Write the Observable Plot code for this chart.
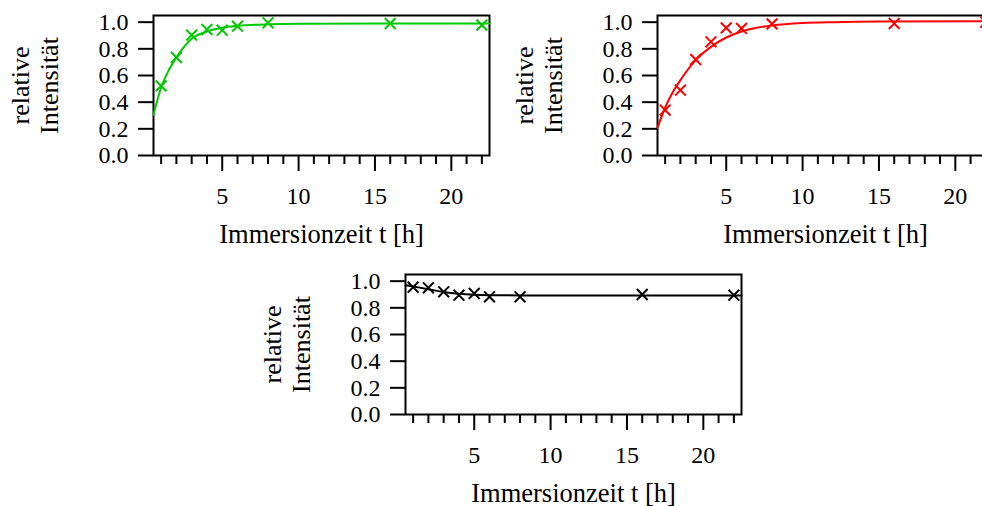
<!DOCTYPE html>
<html><head><meta charset="utf-8">
<script src="https://cdn.jsdelivr.net/npm/d3@7"></script>
<script src="https://cdn.jsdelivr.net/npm/@observablehq/plot@0.6"></script>
<style>
html,body{margin:0;padding:0;background:#fff;}
#fig{position:relative;width:982px;height:506px;overflow:hidden;background:#fff;}
.panel{position:absolute;}
</style></head><body><div id="fig"></div>
<script>
// measurement times [h]
const times = [1, 2, 3, 4, 5, 6, 8, 16, 22];
// measured relative intensities (markers)
const greenValues = [0.522, 0.735, 0.903, 0.945, 0.94, 0.97, 0.995, 0.99, 0.978];
const redValues   = [0.341, 0.49, 0.72, 0.853, 0.957, 0.953, 0.987, 0.99, 1.0];
const blackValues = [0.955, 0.95, 0.92, 0.895, 0.908, 0.883, 0.883, 0.90, 0.895];
// fitted curves
const greenCurveT = [0.5, 1, 1.5, 2, 3, 4, 5, 6, 8, 10, 15, 22.5];
const greenCurveV = [0.306, 0.51, 0.64, 0.735, 0.875, 0.93, 0.958, 0.972, 0.984, 0.988, 0.99, 0.99];
const redCurveT = [0.5, 1, 1.5, 2, 3, 4, 5, 6, 7, 8, 10, 12, 15, 22.5];
const redCurveV = [0.207, 0.36, 0.475, 0.565, 0.715, 0.815, 0.885, 0.93, 0.958, 0.975, 0.993, 1.0, 1.005, 1.007];
const blackCurveT = [0.5, 1, 2, 3, 4, 5, 6, 8, 22.5];
const blackCurveV = [0.97, 0.96, 0.94, 0.918, 0.905, 0.898, 0.895, 0.893, 0.893];
// ticks and labels
const yTicks = [0, 0.2, 0.4, 0.6, 0.8, 1.0];
const xMajor = [5, 10, 15, 20];
const xMinor = [1, 2, 3, 4, 6, 7, 8, 9, 11, 12, 13, 14, 16, 17, 18, 19, 21, 22];
const xTitle = "Immersionzeit t [h]";
const yTitle = "relative\nIntensität";

const panels = [
  {values: greenValues, ct: greenCurveT, cv: greenCurveV, color: "#00c800", left: 0, top: 0},
  {values: redValues, ct: redCurveT, cv: redCurveV, color: "#ff0000", left: 504, top: 0},
  {values: blackValues, ct: blackCurveT, cv: blackCurveV, color: "#000000", left: 252, top: 259}
];

const fmt = d3.format(".1f");
const fig = document.getElementById("fig");
for (const p of panels) {
  const pts = times.map((t, i) => ({t, v: p.values[i]}));
  const curve = p.ct.map((t, i) => ({t, v: p.cv[i]}));
  const chart = Plot.plot({
    width: 500, height: 255,
    marginLeft: 153, marginTop: 15, marginRight: 11, marginBottom: 100,
    x: {domain: [0.5, 22.5]},
    y: {domain: [0, 1.05]},
    style: {fontFamily: '"Liberation Serif", "Times New Roman", serif', fontSize: "24px", background: "white", color: "black", overflow: "visible"},
    marks: [
      Plot.axisY(yTicks, {tickSize: 15, tickFormat: () => "", strokeWidth: 2, label: null}),
      Plot.axisX(xMinor, {tickSize: 9, tickFormat: () => "", strokeWidth: 2, label: null}),
      Plot.axisX(xMajor, {tickSize: 16, tickFormat: () => "", strokeWidth: 2, label: null}),
      Plot.text(yTicks, {y: d => d, text: d => fmt(d), frameAnchor: "left", dx: -25, textAnchor: "end", lineAnchor: "middle", fontSize: 24}),
      Plot.text(xMajor, {x: d => d, text: d => String(d), frameAnchor: "bottom", dy: 41, textAnchor: "middle", lineAnchor: "middle", fontSize: 24}),
      Plot.frame({strokeWidth: 2}),
      Plot.line(curve, {x: "t", y: "v", stroke: p.color, strokeWidth: 2, curve: "monotone-x"}),
      Plot.dot(pts, {x: "t", y: "v", symbol: "times", r: 5, stroke: p.color, strokeWidth: 2}),
      Plot.text([xTitle], {frameAnchor: "bottom", dy: 79, fontSize: 26.5, lineAnchor: "middle", textAnchor: "middle"}),
      Plot.text([yTitle], {frameAnchor: "left", rotate: -90, dx: -119, fontSize: 26, lineHeight: 1.1, textAnchor: "middle", lineAnchor: "middle"})
    ]
  });
  chart.classList.add("panel");
  chart.style.left = p.left + "px";
  chart.style.top = p.top + "px";
  fig.appendChild(chart);
}
</script>
</body></html>
